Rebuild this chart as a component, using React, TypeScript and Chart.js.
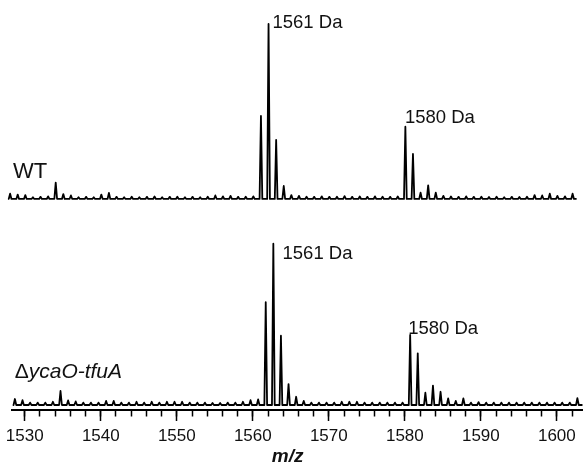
import React, { useEffect, useRef } from "react";
import { Chart, registerables } from "chart.js";
Chart.register(...registerables);

// ---- data (m/z of peak apex, relative intensity %) ----
const topMz = [
  1528.07, 1529.07, 1530.07, 1531.07, 1532.07, 1533.07, 1534.07, 1535.07, 1536.07, 1537.07,
  1538.07, 1539.07, 1540.07, 1541.07, 1542.07, 1543.07, 1544.07, 1545.07, 1546.07, 1547.07,
  1548.07, 1549.07, 1550.07, 1551.07, 1552.07, 1553.07, 1554.07, 1555.07, 1556.07, 1557.07,
  1558.07, 1559.07, 1560.07, 1561.07, 1562.07, 1563.07, 1564.07, 1565.07, 1566.07, 1567.07,
  1568.07, 1569.07, 1570.07, 1571.07, 1572.07, 1573.07, 1574.07, 1575.07, 1576.07, 1577.07,
  1578.07, 1579.07, 1580.07, 1581.07, 1582.07, 1583.07, 1584.07, 1585.07, 1586.07, 1587.07,
  1588.07, 1589.07, 1590.07, 1591.07, 1592.07, 1593.07, 1594.07, 1595.07, 1596.07, 1597.07,
  1598.07, 1599.07, 1600.07, 1601.07, 1602.07,
];
const topInt = [
  3, 2.5, 2.2, 1, 1.2, 1.5, 9.3, 2.8, 2, 1,
  1.2, 1, 2.5, 3.5, 1.2, 1, 1.3, 1, 1.2, 1.4,
  1, 1.2, 1.3, 1, 1.2, 1, 1.3, 2, 1.5, 1.8,
  1.2, 1.3, 1.5, 47.4, 100, 33.7, 7.4, 2.2, 1.8, 1.3,
  1.2, 1.5, 1.2, 1.3, 1.6, 1.2, 1.4, 1.2, 1.5, 1.3,
  1.2, 1.4, 41.3, 25.7, 3.6, 7.8, 3.6, 1.8, 1.4, 1.2,
  1.5, 1.2, 1.3, 1.1, 1.3, 1, 1.2, 1.1, 1.3, 2.2,
  2, 3, 1.8, 1.5, 3,
];
const botMz = [
  1528.7, 1529.7, 1530.7, 1531.7, 1532.7, 1533.7, 1534.7, 1535.7, 1536.7, 1537.7,
  1538.7, 1539.7, 1540.7, 1541.7, 1542.7, 1543.7, 1544.7, 1545.7, 1546.7, 1547.7,
  1548.7, 1549.7, 1550.7, 1551.7, 1552.7, 1553.7, 1554.7, 1555.7, 1556.7, 1557.7,
  1558.7, 1559.7, 1560.7, 1561.7, 1562.7, 1563.7, 1564.7, 1565.7, 1566.7, 1567.7,
  1568.7, 1569.7, 1570.7, 1571.7, 1572.7, 1573.7, 1574.7, 1575.7, 1576.7, 1577.7,
  1578.7, 1579.7, 1580.7, 1581.7, 1582.7, 1583.7, 1584.7, 1585.7, 1586.7, 1587.7,
  1588.7, 1589.7, 1590.7, 1591.7, 1592.7, 1593.7, 1594.7, 1595.7, 1596.7, 1597.7,
  1598.7, 1599.7, 1600.7, 1601.7, 1602.7,
];
const botInt = [
  3.7, 3, 1.5, 1.5, 1.5, 2, 8.7, 2.8, 2.2, 1.5,
  1.5, 1.5, 2.5, 2.5, 1.5, 1.5, 2, 1.5, 2, 1.5,
  2, 2, 2, 1.5, 1.5, 1.5, 1.2, 1.2, 1.5, 1.5,
  2, 3, 3.5, 63.7, 100, 43, 13, 5.1, 2.5, 1.5,
  1.5, 1.5, 1.5, 2, 2, 2, 1.5, 1.5, 1.5, 1.5,
  1.5, 1.5, 43.4, 32, 7.6, 12, 8.2, 4.1, 2.5, 4.1,
  1.5, 1.8, 1.5, 1.5, 1.5, 1.5, 1.5, 1.5, 1.5, 1.5,
  1.5, 1.5, 1.5, 1.5, 4.3,
];

const xMin = 1528.38;
const xMax = 1603.4;
const topRange = [1527.95, 1602.6];
const botRange = [1528.38, 1603.4];
const majorTicks = [1530, 1540, 1550, 1560, 1570, 1580, 1590, 1600];
const minorTicks = [
  1530, 1532, 1534, 1536, 1538, 1540, 1542, 1544, 1546, 1548, 1550, 1552, 1554, 1556, 1558,
  1560, 1562, 1564, 1566, 1568, 1570, 1572, 1574, 1576, 1578, 1580, 1582, 1584, 1586, 1588,
  1590, 1592, 1594, 1596, 1598, 1600, 1602,
];

const peakLabels = [
  { text: "1561 Da", x: 1562.59, y: 97.9, axis: "yTop" },
  { text: "1580 Da", x: 1580.01, y: 43.3, axis: "yTop" },
  { text: "1561 Da", x: 1563.91, y: 90.3, axis: "yBot" },
  { text: "1580 Da", x: 1580.44, y: 44.0, axis: "yBot" },
];
const sampleLabels = [
  { prefix: "", text: "WT", x: 1528.44, y: 12.0, axis: "yTop" },
  { prefix: "\u0394", text: "ycaO-tfuA", x: 1528.67, y: 16.6, axis: "yBot" },
];
const axisTitle = { text: "m/z", x: 1564.58 };

const FONT = "'Liberation Sans', Arial, Helvetica, sans-serif";

function profile(mz: number[], inten: number[], range: number[], hw: number) {
  const pts: { x: number; y: number }[] = [{ x: range[0], y: 0 }];
  mz.forEach((m, i) => {
    pts.push({ x: m - hw, y: 0 }, { x: m, y: inten[i] }, { x: m + hw, y: 0 });
  });
  pts.push({ x: range[1], y: 0 });
  return pts;
}

const textPlugin = {
  id: "spectrumText",
  afterDraw(chart: any) {
    const ctx = chart.ctx;
    const xs = chart.scales.x;
    ctx.save();
    ctx.fillStyle = "#111";
    ctx.textBaseline = "alphabetic";
    ctx.textAlign = "left";
    ctx.font = `18.5px ${FONT}`;
    peakLabels.forEach((l) => {
      ctx.fillText(l.text, xs.getPixelForValue(l.x), chart.scales[l.axis].getPixelForValue(l.y));
    });
    sampleLabels.forEach((l) => {
      let px = xs.getPixelForValue(l.x);
      const py = chart.scales[l.axis].getPixelForValue(l.y);
      if (l.prefix) {
        ctx.font = `21px ${FONT}`;
        ctx.fillText(l.prefix, px, py);
        px += ctx.measureText(l.prefix).width;
        ctx.font = `italic 21px ${FONT}`;
        ctx.fillText(l.text, px, py);
      } else {
        ctx.font = `22px ${FONT}`;
        ctx.fillText(l.text, px, py);
      }
    });
    ctx.font = `italic bold 19px ${FONT}`;
    ctx.textAlign = "center";
    ctx.fillText(axisTitle.text, xs.getPixelForValue(axisTitle.x), chart.scales.xMaj.bottom - 3);
    ctx.restore();
  },
};

export default function App() {
  const ref = useRef<HTMLCanvasElement | null>(null);
  useEffect(() => {
    if (!ref.current) return;
    const lineStyle = {
      borderColor: "#000",
      borderWidth: 1.8,
      pointRadius: 0,
      tension: 0,
      fill: false,
      borderJoinStyle: "round" as const,
      xAxisID: "x",
    };
    const chart = new Chart(ref.current, {
      type: "line",
      data: {
        datasets: [
          { ...lineStyle, data: profile(topMz, topInt, topRange, 0.18), yAxisID: "yTop", clip: false },
          { ...lineStyle, data: profile(botMz, botInt, botRange, 0.18), yAxisID: "yBot" },
        ],
      },
      options: {
        responsive: false,
        animation: false,
        devicePixelRatio: 1,
        events: [],
        layout: { padding: { left: 9.3, right: 1.3, top: 0, bottom: 0 } },
        plugins: { legend: { display: false }, tooltip: { enabled: false } },
        scales: {
          x: {
            type: "linear",
            position: "bottom",
            min: xMin,
            max: xMax,
            bounds: "data",
            weight: 0,
            afterBuildTicks: (s: any) => {
              s.ticks = minorTicks.map((v) => ({ value: v }));
            },
            afterFit: (s: any) => {
              s.height = 0;
            },
            ticks: { display: false, autoSkip: false },
            grid: { drawOnChartArea: false, drawTicks: true, tickLength: 6.5, tickWidth: 1.5, tickColor: "#000" },
            border: { display: true, color: "#000", width: 2 },
          },
          xMaj: {
            type: "linear",
            position: "bottom",
            min: xMin,
            max: xMax,
            bounds: "data",
            weight: 1,
            afterBuildTicks: (s: any) => {
              s.ticks = majorTicks.map((v) => ({ value: v }));
            },
            afterFit: (s: any) => {
              s.height = 55;
            },
            ticks: {
              autoSkip: false,
              maxRotation: 0,
              padding: 5.6,
              color: "#111",
              font: { family: FONT, size: 17 },
              callback: (v: any) => String(v),
            },
            grid: { drawOnChartArea: false, drawTicks: true, tickLength: 11, tickWidth: 1.5, tickColor: "#000" },
            border: { display: true, color: "#000", width: 2 },
          },
          yTop: { type: "linear", display: false, bounds: "data", min: -120.6, max: 113.7 },
          yBot: { type: "linear", display: false, bounds: "data", min: -3.1, max: 251.1 },
        },
      },
      plugins: [textPlugin],
    } as any);
    return () => chart.destroy();
  }, []);
  return (
    <div style={{ position: "absolute", left: 0, top: 0, width: 584, height: 465, background: "#fff" }}>
      <canvas ref={ref} width={584} height={465} style={{ display: "block" }} />
    </div>
  );
}
